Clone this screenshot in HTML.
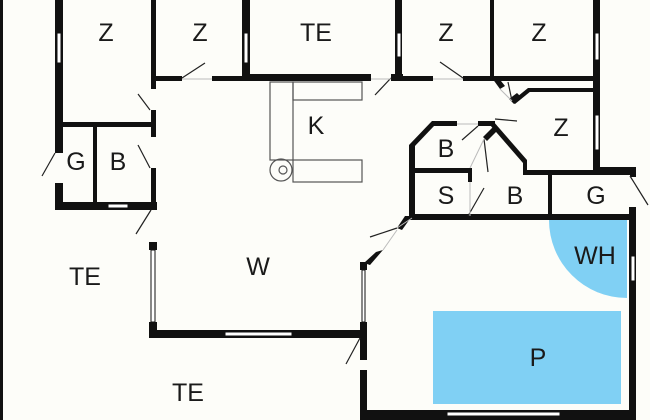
<!DOCTYPE html>
<html><head><meta charset="utf-8"><style>
html,body{margin:0;padding:0;background:#fdfdf9;}
svg{display:block;}
text{font-family:"Liberation Sans",sans-serif;font-size:25px;fill:#1a1a1a;text-anchor:middle;}
</style></head><body>
<svg width="650" height="420" viewBox="0 0 650 420" xmlns="http://www.w3.org/2000/svg">
<rect width="650" height="420" fill="#fdfdf9"/>
<path d="M627 220 L549 220 A78 78 0 0 0 627 298 Z" fill="#80d0f4"/>
<rect x="433" y="311" width="188" height="93" fill="#80d0f4"/>
<g fill="none" stroke="#555" stroke-width="1.2">
<rect x="270" y="82" width="23" height="78"/>
<rect x="293" y="82" width="69" height="18"/>
<rect x="293" y="160" width="69" height="22"/>
<circle cx="281" cy="170" r="11"/><circle cx="283" cy="170" r="4"/>
</g>
<g fill="#111">
<rect x="0" y="0" width="3" height="420"/>
<rect x="55" y="0" width="8" height="153"/>
<rect x="55" y="183" width="8" height="27"/>
<rect x="55" y="202" width="102" height="8"/>
<rect x="63" y="122" width="92" height="5"/>
<rect x="93" y="127" width="4" height="77"/>
<rect x="151" y="0" width="5" height="89"/>
<rect x="151" y="110" width="5" height="27"/>
<rect x="151" y="168" width="5" height="42"/>
<rect x="151" y="76" width="31" height="5"/>
<rect x="212" y="76" width="38" height="5"/>
<rect x="242" y="0" width="8" height="81"/>
<rect x="243" y="74" width="128" height="7"/>
<rect x="391" y="74" width="12" height="7"/>
<rect x="395" y="0" width="7" height="81"/>
<rect x="402" y="76" width="31" height="5"/>
<rect x="463" y="76" width="133" height="5"/>
<rect x="490" y="0" width="4" height="80"/>
<rect x="593" y="0" width="7" height="172"/>
<rect x="528" y="88" width="67" height="4"/>
<polygon points="512,101 528,88 531,91 515,104"/>
<polygon points="492,78 497,76 505,86 500,89"/>
<polygon points="509,99 517,93 522,98 514,104" />
<rect x="432" y="121" width="25" height="5"/>
<rect x="478" y="121" width="17" height="5"/>
<polygon points="432,121 434,126 414,147 409,145"/>
<polygon points="493,121 527,160 523,163 490,125"/>
<rect x="523" y="160" width="4" height="14"/>
<polygon points="483,137 493,127 497,131 487,141"/>
<rect x="409" y="145" width="6" height="75"/>
<rect x="413" y="168" width="59" height="5"/>
<rect x="468" y="168" width="4" height="14"/>
<rect x="523" y="170" width="74" height="5"/>
<rect x="548" y="172" width="4" height="46"/>
<rect x="595" y="167" width="41" height="8"/>
<rect x="630" y="167" width="6" height="10"/>
<rect x="629" y="207" width="7" height="213"/>
<rect x="410" y="214" width="226" height="6"/>
<polygon points="405,216 412,216 402,230 397,228"/>
<polygon points="376,252 383,250 370,265 364,263"/>
<rect x="360" y="262" width="7" height="8"/>
<rect x="360" y="322" width="7" height="38"/>
<rect x="360" y="370" width="7" height="50"/>
<rect x="360" y="410" width="276" height="10"/>
<rect x="149" y="242" width="8" height="8"/>
<rect x="149" y="322" width="8" height="16"/>
<rect x="149" y="330" width="218" height="8"/>
</g>
<g fill="#fff" stroke="#111" stroke-width="1">
<rect x="57" y="33" width="4" height="30"/>
<rect x="244" y="33" width="4" height="30"/>
<rect x="397" y="33" width="4" height="24"/>
<rect x="595" y="33" width="4" height="27"/>
<rect x="595" y="115" width="4" height="35"/>
<rect x="108" y="204" width="20" height="4"/>
<rect x="151" y="250" width="4" height="72"/>
<rect x="225" y="332" width="67" height="4"/>
<rect x="362" y="270" width="3" height="52"/>
<rect x="447" y="412" width="113" height="4"/>
<rect x="631" y="256" width="4" height="25"/>
</g>
<g stroke="#222" stroke-width="1.2">
<line x1="182" y1="78" x2="205" y2="63"/>
<line x1="150" y1="110" x2="138" y2="94"/>
<line x1="150" y1="168" x2="138" y2="145"/>
<line x1="55" y1="153" x2="42" y2="176"/>
<line x1="151" y1="210" x2="136" y2="234"/>
<line x1="391" y1="78" x2="375" y2="95"/>
<line x1="463" y1="78" x2="440" y2="62"/>
<line x1="512" y1="101" x2="508" y2="82"/>
<line x1="495" y1="119" x2="517" y2="121"/>
<line x1="478" y1="126" x2="462" y2="140"/>
<line x1="484" y1="139" x2="488" y2="172"/>
<line x1="468" y1="216" x2="484" y2="188"/>
<line x1="630" y1="176" x2="648" y2="205"/>
<line x1="397" y1="228" x2="370" y2="237"/>
<line x1="360" y1="338" x2="346" y2="364"/>
</g>
<g stroke="#bbb" stroke-width="1">
<line x1="182" y1="79" x2="212" y2="79"/>
<line x1="433" y1="79" x2="463" y2="79"/>
<line x1="371" y1="79" x2="391" y2="79"/>
<line x1="457" y1="124" x2="478" y2="124"/>
<line x1="500" y1="89" x2="512" y2="101"/>
<line x1="484" y1="139" x2="470" y2="168"/>
<line x1="470" y1="182" x2="470" y2="216"/>
<line x1="412" y1="218" x2="397" y2="228"/>
<line x1="383" y1="250" x2="397" y2="230"/>
</g>
<text x="106" y="41">Z</text>
<text x="200" y="41">Z</text>
<text x="316" y="41">TE</text>
<text x="446" y="41">Z</text>
<text x="539" y="41">Z</text>
<text x="316" y="134">K</text>
<text x="76" y="170">G</text>
<text x="118" y="170">B</text>
<text x="446" y="157">B</text>
<text x="561" y="136">Z</text>
<text x="446" y="204">S</text>
<text x="515" y="204">B</text>
<text x="596" y="204">G</text>
<text x="258" y="275">W</text>
<text x="595" y="264">WH</text>
<text x="85" y="285">TE</text>
<text x="538" y="366">P</text>
<text x="188" y="401">TE</text>
</svg>
</body></html>
